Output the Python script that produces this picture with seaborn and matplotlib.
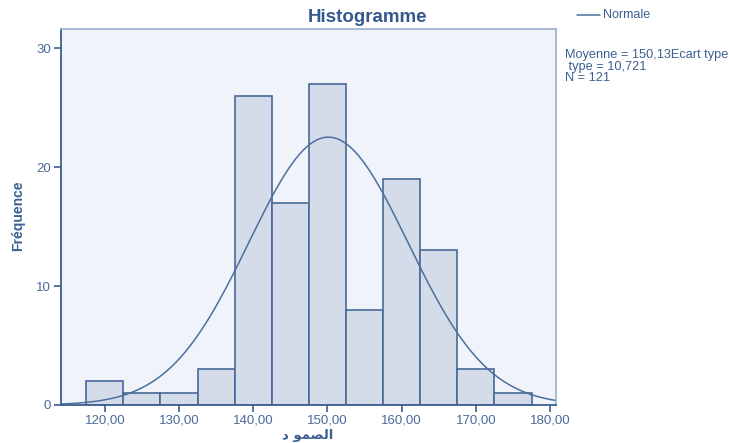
import numpy as np
import pandas as pd
import seaborn as sns
import matplotlib
matplotlib.use("Agg")
import matplotlib.pyplot as plt

# Data
bin_edges = [117.5, 122.5, 127.5, 132.5, 137.5, 142.5, 147.5, 152.5, 157.5, 162.5, 167.5, 172.5, 177.5]
counts = [2, 1, 1, 3, 26, 17, 27, 8, 19, 13, 3, 1]
mean_val = 150.13
sd_val = 10.721
n_val = 121
x_ticks = [120, 130, 140, 150, 160, 170, 180]
x_tick_labels = ["120,00", "130,00", "140,00", "150,00", "160,00", "170,00", "180,00"]
y_ticks = [0, 10, 20, 30]
title = "Histogramme"
x_label = "الصمود"
y_label = "Fréquence"
legend_label = "Normale"
stats_text = "Moyenne = 150,13Ecart type\n type = 10,721\nN = 121"

sns.set_theme(style="white")
plt.rcParams['font.family'] = ['Liberation Sans', 'DejaVu Sans']

dark = "#3B5E91"
tick_col = "#4A6A98"
fig = plt.figure(figsize=(7.29, 4.43), dpi=100)
ax = fig.add_axes([0.0837, 0.0858, 0.679, 0.8487])
ax.set_facecolor("#F0F3F9")

centers = [(bin_edges[i] + bin_edges[i + 1]) / 2 for i in range(len(counts))]
df = pd.DataFrame({"x": centers, "w": counts})
sns.histplot(data=df, x="x", weights="w", bins=bin_edges, ax=ax,
             color="#D3DCE8", edgecolor="#48699A", linewidth=1.2, alpha=1)

xs = np.linspace(114.1, 180.8, 400)
binw = bin_edges[1] - bin_edges[0]
ys = n_val * binw / (sd_val * np.sqrt(2 * np.pi)) * np.exp(-0.5 * ((xs - mean_val) / sd_val) ** 2)
sns.lineplot(x=xs, y=ys, ax=ax, color="#4D6F9E", linewidth=1.1)

ax.set_xlim(114.1, 180.8)
ax.set_ylim(0, 31.6)
ax.set_xticks(x_ticks)
ax.set_xticklabels(x_tick_labels)
ax.set_yticks(y_ticks)
ax.set_yticklabels([str(v) for v in y_ticks])
ax.tick_params(axis="both", direction="out", length=5, width=1.2, color=dark,
               labelcolor=tick_col, labelsize=9.5, bottom=True, left=True, pad=2)
ax.set_xlabel("")
ax.set_ylabel("")

for s in ["left", "bottom"]:
    ax.spines[s].set_color(dark)
    ax.spines[s].set_linewidth(1.3)
for s in ["top", "right"]:
    ax.spines[s].set_color("#9AAECC")
    ax.spines[s].set_linewidth(1.2)

# Arabic label "الصمود" laid out visually (right-to-left, joined presentation forms)
fig.text(308 / 729, 1 - 436 / 443, "ﺩ ﻮﻤﺼﻟا", fontsize=9.5, color=dark, fontweight="bold",
         ha="center", va="center", family=["DejaVu Sans"])
fig.text(18 / 729, 1 - 216 / 443, y_label, fontsize=10, color=dark, fontweight="bold",
         rotation=90, ha="center", va="center",
         family=["Liberation Sans Narrow", "Liberation Sans"])
fig.text(368 / 729, 1 - 17 / 443, title, fontsize=13.5, color="#34598F",
         fontweight="bold", ha="center", va="center")

# legend
fig.lines.append(plt.Line2D([577 / 729, 600 / 729], [1 - 15 / 443, 1 - 15 / 443],
                            transform=fig.transFigure, color="#4D6F9E", linewidth=1.1))
fig.text(603 / 729, 1 - 15 / 443, legend_label, fontsize=9, color="#3B5E91", va="center")
fig.text(565 / 729, 1 - 49 / 443, stats_text, fontsize=9.2, color="#3B5E91", va="top",
         linespacing=0.95)

fig.savefig("out.png", dpi=100)
